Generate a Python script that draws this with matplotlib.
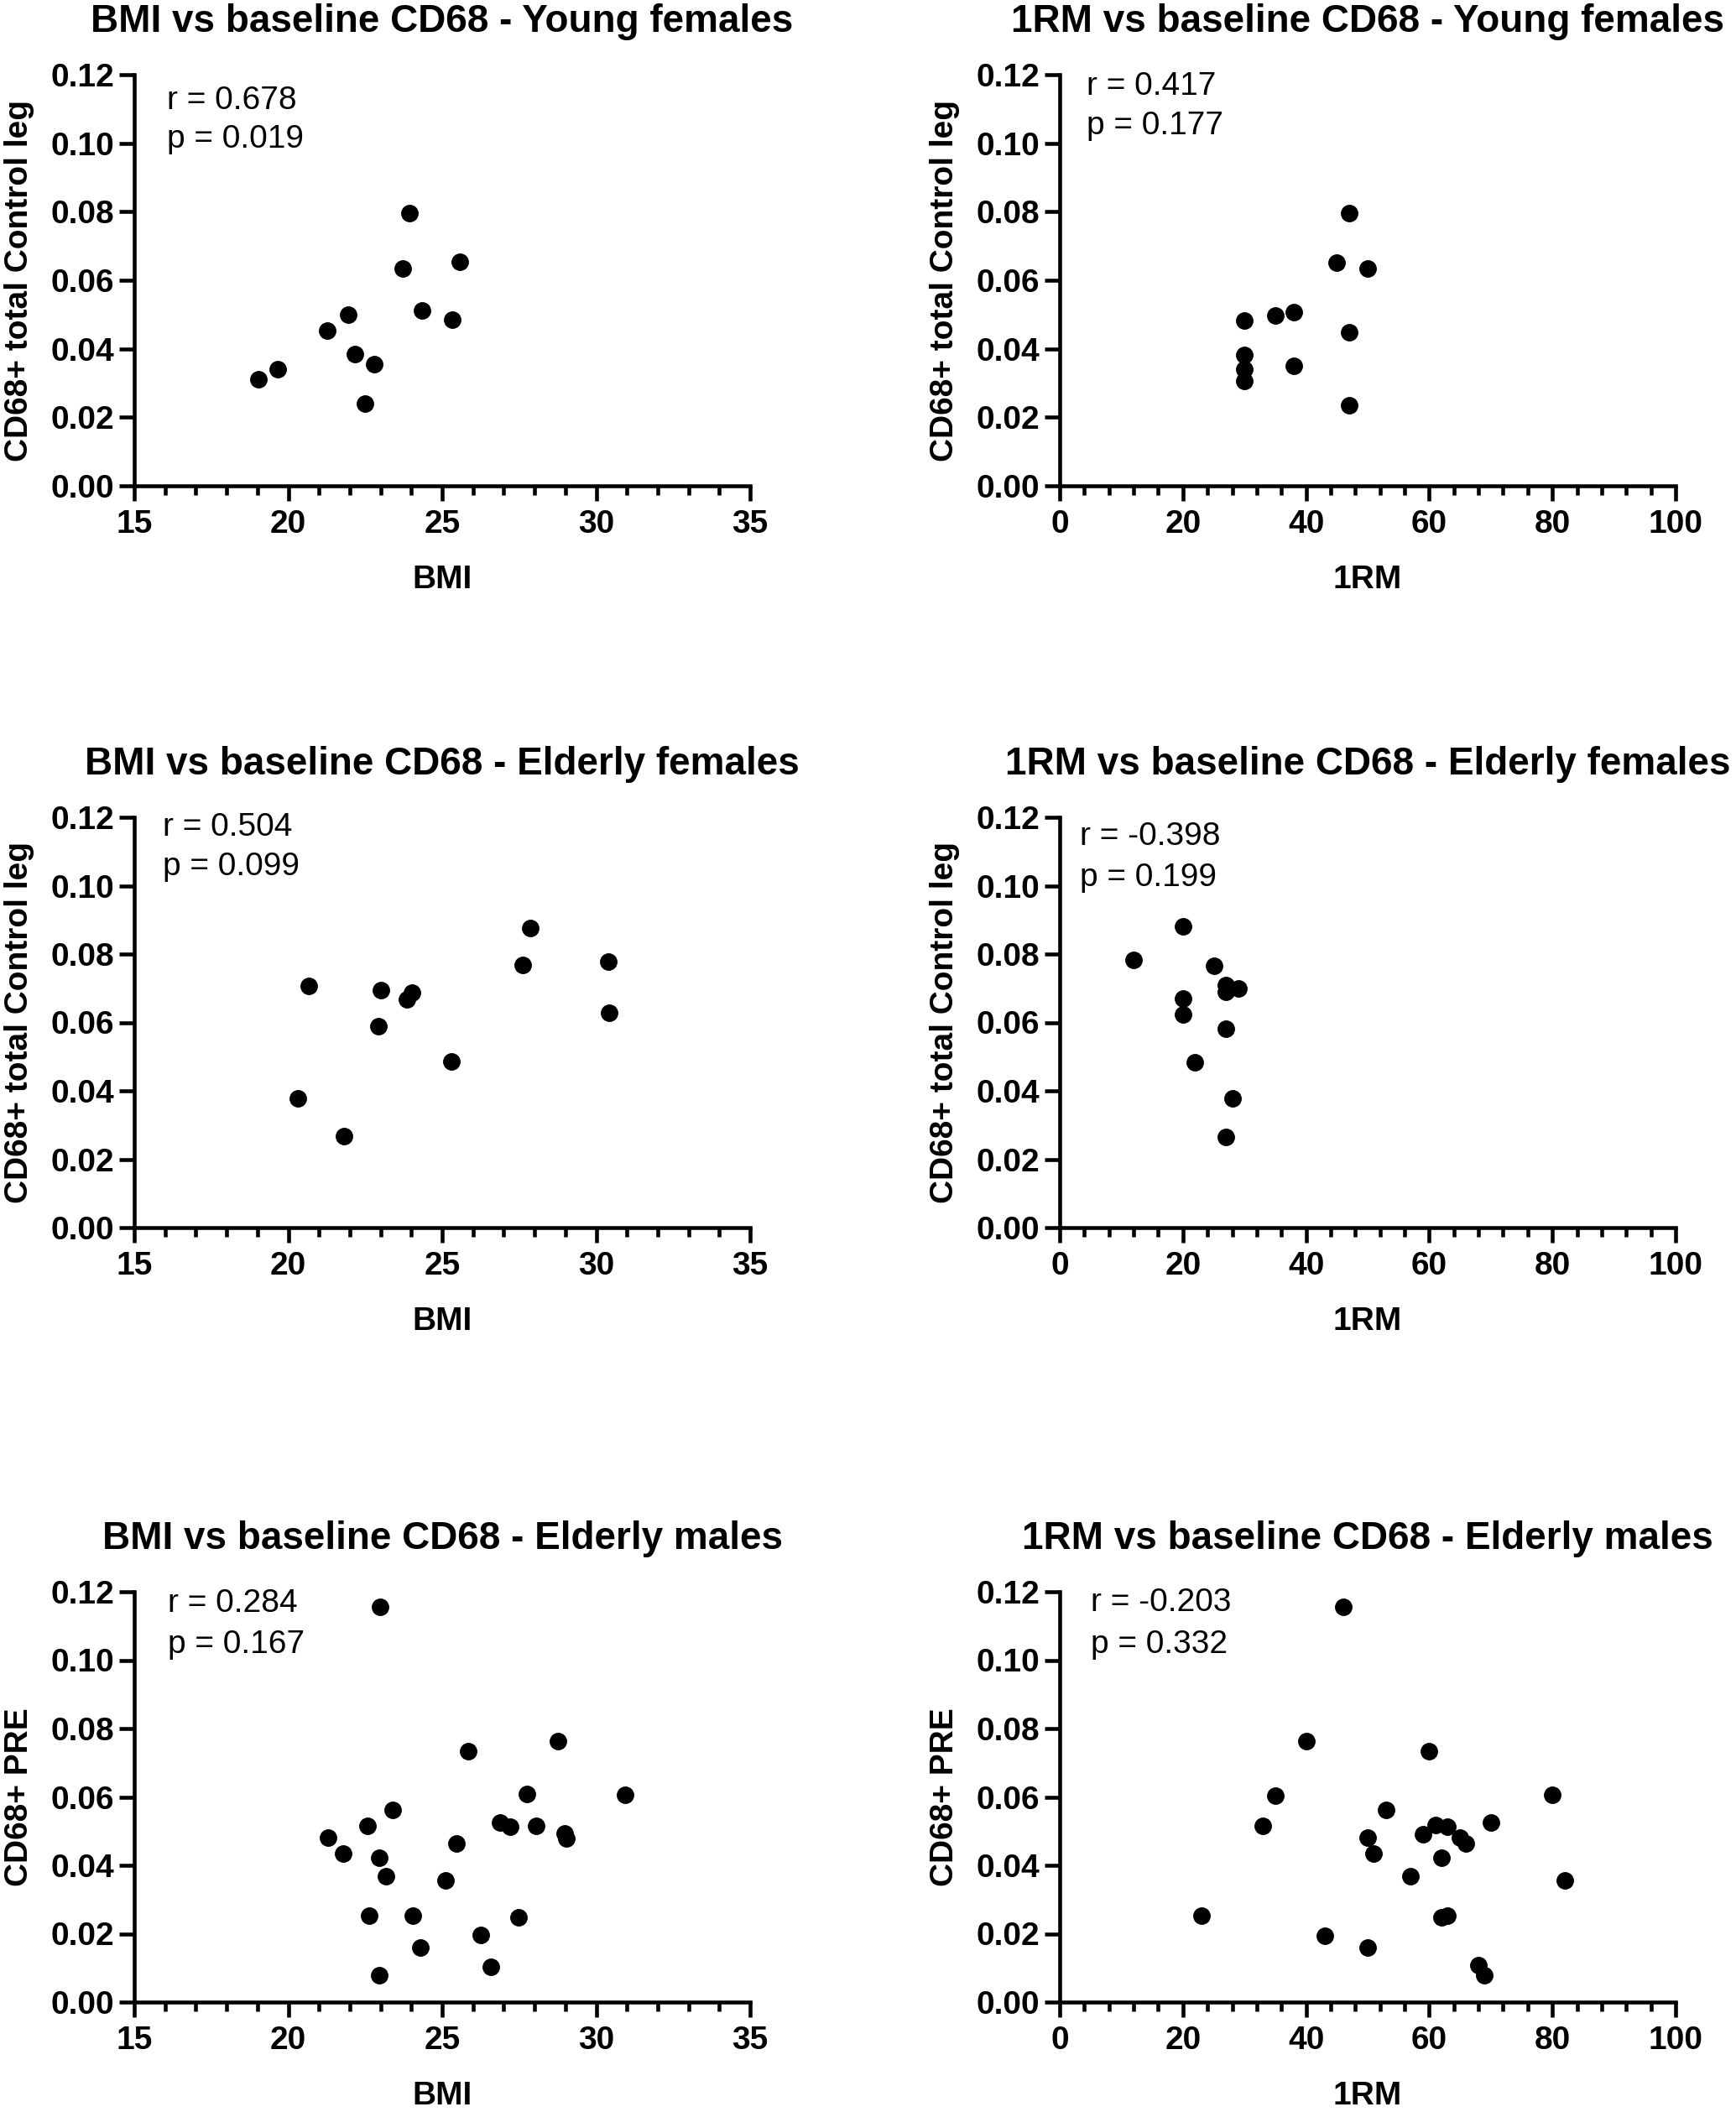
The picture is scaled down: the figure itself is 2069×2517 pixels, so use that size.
import matplotlib
matplotlib.use("Agg")
from matplotlib import pyplot as plt
from matplotlib.ticker import MultipleLocator, FormatStrFormatter

plt.rcParams['font.family'] = ['Liberation Sans', 'DejaVu Sans']

# young females
bmi_yf = [19.03, 19.66, 21.28, 21.96, 22.17, 22.79, 22.50, 23.72, 23.93, 24.35, 25.32, 25.57]
cd68_yf_bmi = [0.031, 0.034, 0.0453, 0.0499, 0.0385, 0.0355, 0.0239, 0.0634, 0.0797, 0.0512, 0.0486, 0.0655]
rm_yf = [30, 30, 30, 30, 35, 38, 38, 45, 47, 50, 47, 47]
cd68_yf_rm = [0.0483, 0.0382, 0.0340, 0.0305, 0.0496, 0.0507, 0.0350, 0.0652, 0.0795, 0.0634, 0.0449, 0.0234]

# elderly females
bmi_ef = [20.32, 20.67, 21.82, 22.93, 23.00, 23.86, 24.01, 25.29, 27.61, 27.87, 30.40, 30.43]
cd68_ef_bmi = [0.0378, 0.0707, 0.0267, 0.0588, 0.0695, 0.0667, 0.0687, 0.0487, 0.0767, 0.0877, 0.0777, 0.0627]
rm_ef = [12, 20, 20, 20, 22, 25, 27, 27, 29, 27, 28, 27]
cd68_ef_rm = [0.0782, 0.0881, 0.0669, 0.0623, 0.0483, 0.0766, 0.0710, 0.0689, 0.0700, 0.0582, 0.0379, 0.0264]

# elderly males
bmi_em = [22.99, 21.29, 21.78, 22.58, 22.95, 23.18, 23.39, 22.63, 22.95, 24.05, 24.28, 25.10, 25.46,
          25.85, 26.26, 26.58, 26.89, 27.21, 27.48, 27.76, 28.06, 28.75, 28.97, 29.04, 30.94]
cd68_em_bmi = [0.1155, 0.0481, 0.0434, 0.0516, 0.0423, 0.0369, 0.0562, 0.0252, 0.0079, 0.0252, 0.0159,
               0.0356, 0.0464, 0.0733, 0.0197, 0.0104, 0.0526, 0.0512, 0.0248, 0.0608, 0.0516, 0.0763,
               0.0493, 0.0479, 0.0605]
rm_em = [46, 23, 33, 35, 40, 43, 50, 50, 51, 53, 57, 59, 60, 61, 62, 63, 62, 63, 65, 66, 68, 69, 70, 80, 82]
cd68_em_rm = [0.1155, 0.0252, 0.0516, 0.0604, 0.0762, 0.0195, 0.0481, 0.0159, 0.0434, 0.0562, 0.0369,
              0.0490, 0.0733, 0.0518, 0.0423, 0.0512, 0.0247, 0.0252, 0.0481, 0.0464, 0.0107, 0.0078,
              0.0525, 0.0606, 0.0356]

titles = ["BMI vs baseline CD68 - Young females", "1RM vs baseline CD68 - Young females",
          "BMI vs baseline CD68 - Elderly females", "1RM vs baseline CD68 - Elderly females",
          "BMI vs baseline CD68 - Elderly males", "1RM vs baseline CD68 - Elderly males"]
r_texts = ["r = 0.678", "r = 0.417", "r = 0.504", "r = -0.398", "r = 0.284", "r = -0.203"]
p_texts = ["p = 0.019", "p = 0.177", "p = 0.099", "p = 0.199", "p = 0.167", "p = 0.332"]
ylabels = ["CD68+ total Control leg"] * 4 + ["CD68+ PRE"] * 2

W, H = 2069, 2517
fig = plt.figure(figsize=(W / 100, H / 100), dpi=100)

rows = [(89, 579), (974, 1463), (1897, 2386)]
cols = [(160, 894), (1263, 1997)]
# text positions in axes fraction (x, y_r, y_p)
txt_pos = [(0.053, 0.937, 0.843), (0.043, 0.972, 0.875),
           (0.046, 0.976, 0.880), (0.033, 0.952, 0.853),
           (0.055, 0.971, 0.871), (0.050, 0.973, 0.871)]

datasets = [(bmi_yf, cd68_yf_bmi), (rm_yf, cd68_yf_rm),
            (bmi_ef, cd68_ef_bmi), (rm_ef, cd68_ef_rm),
            (bmi_em, cd68_em_bmi), (rm_em, cd68_em_rm)]

for i, (xs, ys) in enumerate(datasets):
    top, bot = rows[i // 2]
    left, right = cols[i % 2]
    ax = fig.add_axes([left / W, 1 - bot / H, (right - left) / W, (bot - top) / H])
    ax.plot(xs, ys, 'o', color='black', ms=14, clip_on=False)

    if i % 2 == 0:
        ax.set_xlim(15, 35)
        ax.xaxis.set_major_locator(MultipleLocator(5))
        ax.xaxis.set_minor_locator(MultipleLocator(1))
        ax.set_xlabel("BMI", fontsize=28, fontweight='bold', labelpad=22)
    else:
        ax.set_xlim(0, 100)
        ax.xaxis.set_major_locator(MultipleLocator(20))
        ax.xaxis.set_minor_locator(MultipleLocator(4))
        ax.set_xlabel("1RM", fontsize=28, fontweight='bold', labelpad=22)
    ax.set_ylim(0, 0.12)
    ax.yaxis.set_major_locator(MultipleLocator(0.02))
    ax.yaxis.set_major_formatter(FormatStrFormatter('%.2f'))

    for s in ['top', 'right']:
        ax.spines[s].set_visible(False)
    for s in ['left', 'bottom']:
        ax.spines[s].set_linewidth(3.3)
        ax.spines[s].set_capstyle('projecting')
    ax.tick_params(which='major', direction='out', length=13, width=3.3, labelsize=28, pad=4)
    ax.tick_params(axis='x', which='major', pad=7)
    ax.tick_params(which='minor', direction='out', length=8, width=3.3)
    for lab in ax.get_xticklabels() + ax.get_yticklabels():
        lab.set_fontweight('bold')

    ax.set_ylabel(ylabels[i], fontsize=28, fontweight='bold', labelpad=14)
    ax.set_title(titles[i], fontsize=33, fontweight='bold', pad=37)

    tx, yr, yp = txt_pos[i]
    ax.text(tx, yr, r_texts[i], transform=ax.transAxes, fontsize=28, va='center', ha='left')
    ax.text(tx, yp, p_texts[i], transform=ax.transAxes, fontsize=28, va='center', ha='left')

fig.savefig("out.png", dpi=100, facecolor='white')
